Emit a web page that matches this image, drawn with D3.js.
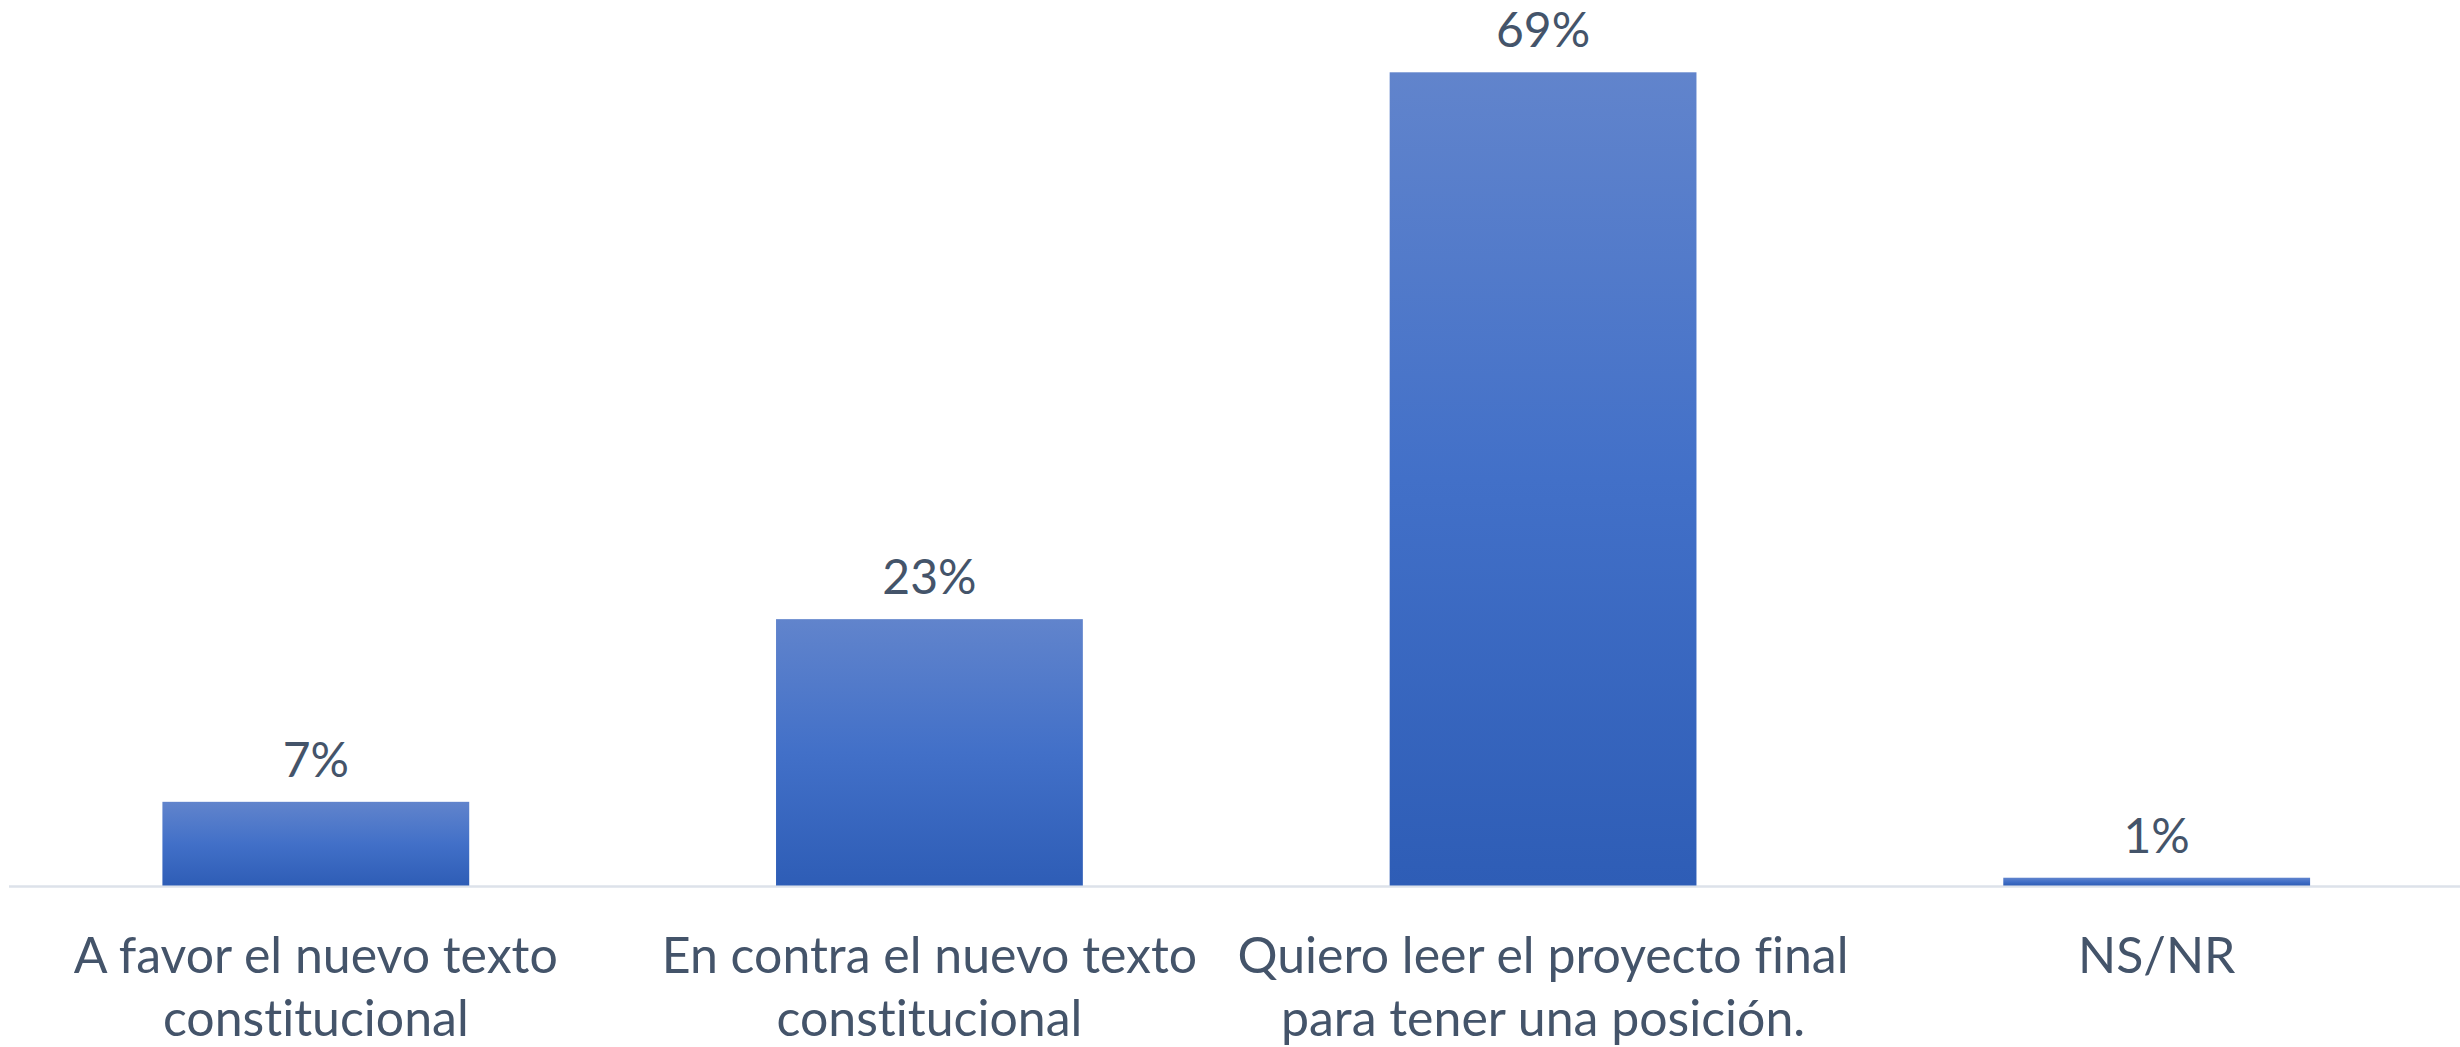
<!DOCTYPE html>
<html><head><meta charset="utf-8">
<script src="https://cdn.jsdelivr.net/npm/d3@7"></script>
<style>html,body{margin:0;padding:0;background:#fff;}svg{display:block;} text{font-variant-ligatures:none;font-feature-settings:"liga" 0, "clig" 0;}</style>
</head><body>
<script>
const categories = [
  ["A favor el nuevo texto", "constitucional"],
  ["En contra el nuevo texto", "constitucional"],
  ["Quiero leer el proyecto final", "para tener una posición."],
  ["NS/NR"]
];
const values = [7.1, 22.6, 69, 0.66];
const valueLabels = ["7%", "23%", "69%", "1%"];

const W = 2460, H = 1047;
const svg = d3.select("body").append("svg").attr("width", W).attr("height", H);
const defs = svg.append("defs");
const grad = defs.append("linearGradient").attr("id", "barGrad")
  .attr("x1", 0).attr("y1", 0).attr("x2", 0).attr("y2", 1);
grad.append("stop").attr("offset", "0%").attr("stop-color", "#6184cc");
grad.append("stop").attr("offset", "50%").attr("stop-color", "#4270c8");
grad.append("stop").attr("offset", "100%").attr("stop-color", "#2e5db6");

const x = d3.scaleBand().domain(d3.range(values.length)).range([9, 2463.5]).paddingInner(0.5).paddingOuter(0.25);
const y = d3.scaleLinear().domain([0, 69]).range([885.5, 72.3]);

svg.append("line").attr("x1", 9).attr("x2", W).attr("y1", 886.5).attr("y2", 886.5)
  .attr("stroke", "#dde2ea").attr("stroke-width", 2.5);

svg.selectAll("rect.bar").data(values).join("rect").attr("class", "bar")
  .attr("x", (d, i) => x(i)).attr("width", x.bandwidth())
  .attr("y", d => y(d)).attr("height", d => y(0) - y(d))
  .attr("fill", "url(#barGrad)");

const font = "Lato, 'Open Sans', sans-serif";
svg.selectAll("text.val").data(values).join("text").attr("class", "val")
  .attr("x", (d, i) => x(i) + x.bandwidth() / 2)
  .attr("y", d => y(d) - 25)
  .attr("text-anchor", "middle").attr("font-family", font).attr("font-size", 48)
  .attr("fill", "#44546a").text((d, i) => valueLabels[i]);

const cat = svg.selectAll("text.cat").data(categories).join("text").attr("class", "cat")
  .attr("text-anchor", "middle").attr("font-family", font).attr("font-size", 50)
  .attr("fill", "#44546a");
cat.each(function (lines, i) {
  const t = d3.select(this);
  lines.forEach((ln, j) => {
    t.append("tspan").attr("x", x(i) + x.bandwidth() / 2).attr("y", 973 + j * 63).text(ln);
  });
});
</script>
</body></html>
